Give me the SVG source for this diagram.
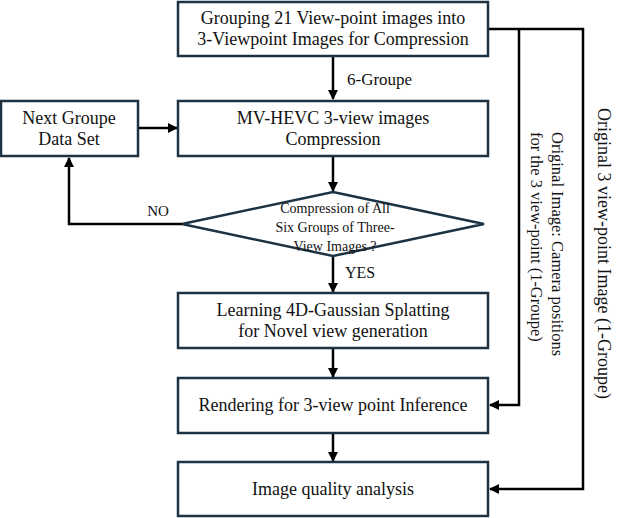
<svg xmlns="http://www.w3.org/2000/svg" width="623" height="518" viewBox="0 0 623 518">
<defs>
<marker id="ah" markerWidth="10" markerHeight="10" refX="9" refY="5" orient="auto" markerUnits="userSpaceOnUse">
<path d="M0,0 L10,5 L0,10 Z" fill="#000"/>
</marker>
<style>
.box{fill:#fff;stroke:#1d3343;stroke-width:2.5}
.t{font-family:"Liberation Serif","Times New Roman",serif;font-size:18px;fill:#111;text-anchor:middle}
.s{font-family:"Liberation Serif","Times New Roman",serif;font-size:14px;fill:#111;text-anchor:middle}
.r{font-family:"Liberation Serif","Times New Roman",serif;font-size:16.5px;fill:#111}
.c{fill:none;stroke:#000;stroke-width:2.5}
</style>
</defs>
<rect width="623" height="518" fill="#fff"/>
<g id="connectors">
<line class="c" x1="333" y1="56" x2="333" y2="99" marker-end="url(#ah)"/>
<line class="c" x1="138" y1="128" x2="177" y2="128" marker-end="url(#ah)"/>
<line class="c" x1="333" y1="156" x2="333" y2="191" marker-end="url(#ah)"/>
<polyline class="c" points="182,224 69,224 69,158" marker-end="url(#ah)"/>
<line class="c" x1="333" y1="256" x2="333" y2="292" marker-end="url(#ah)"/>
<line class="c" x1="333" y1="348" x2="333" y2="377" marker-end="url(#ah)"/>
<line class="c" x1="333" y1="433" x2="333" y2="461" marker-end="url(#ah)"/>
<polyline class="c" points="488,29 583,29 583,489 490,489" marker-end="url(#ah)"/>
<polyline class="c" points="519,29 519,405 490,405" marker-end="url(#ah)"/>
<text class="s" x="347" y="85" style="text-anchor:start;font-size:17px">6-Groupe</text>
<text class="s" x="158" y="216" style="font-size:15px">NO</text>
<text class="s" x="345" y="278" style="text-anchor:start;font-size:16px">YES</text>
<text class="r" transform="translate(598,108) rotate(90)" style="font-size:18px">Original 3 view-point  Image (1-Groupe)</text>
<text class="r" transform="translate(552,132) rotate(90)">Original Image: Camera positions</text>
<text class="r" transform="translate(531,132) rotate(90)">for the 3 view-point (1-Groupe)</text>
</g>
<g id="n1">
<rect class="box" x="178" y="2" width="310" height="54"/>
<text class="t" x="333" y="24">Grouping 21 View-point images into</text>
<text class="t" x="333" y="45">3-Viewpoint Images for Compression</text>
</g>
<g id="n2">
<rect class="box" x="178" y="101" width="310" height="55"/>
<text class="t" x="333" y="124">MV-HEVC 3-view images</text>
<text class="t" x="333" y="145">Compression</text>
</g>
<g id="n3">
<rect class="box" x="1" y="101" width="137" height="55"/>
<text class="t" x="69" y="124">Next Groupe</text>
<text class="t" x="69" y="145">Data Set</text>
</g>
<g id="n4">
<polygon class="box" points="333,192 484,224 333,256 182,224"/>
<text class="s" x="335" y="213">Compression of All</text>
<text class="s" x="335" y="232">Six Groups of  Three-</text>
<text class="s" x="335" y="251">View Images ?</text>
</g>
<g id="n5">
<rect class="box" x="178" y="293" width="310" height="55"/>
<text class="t" x="333" y="316">Learning 4D-Gaussian Splatting</text>
<text class="t" x="333" y="337">for Novel view generation</text>
</g>
<g id="n6">
<rect class="box" x="178" y="378" width="310" height="55"/>
<text class="t" x="333" y="411">Rendering for 3-view point Inference</text>
</g>
<g id="n7">
<rect class="box" x="178" y="462" width="310" height="54"/>
<text class="t" x="333" y="495">Image quality analysis</text>
</g>
</svg>
